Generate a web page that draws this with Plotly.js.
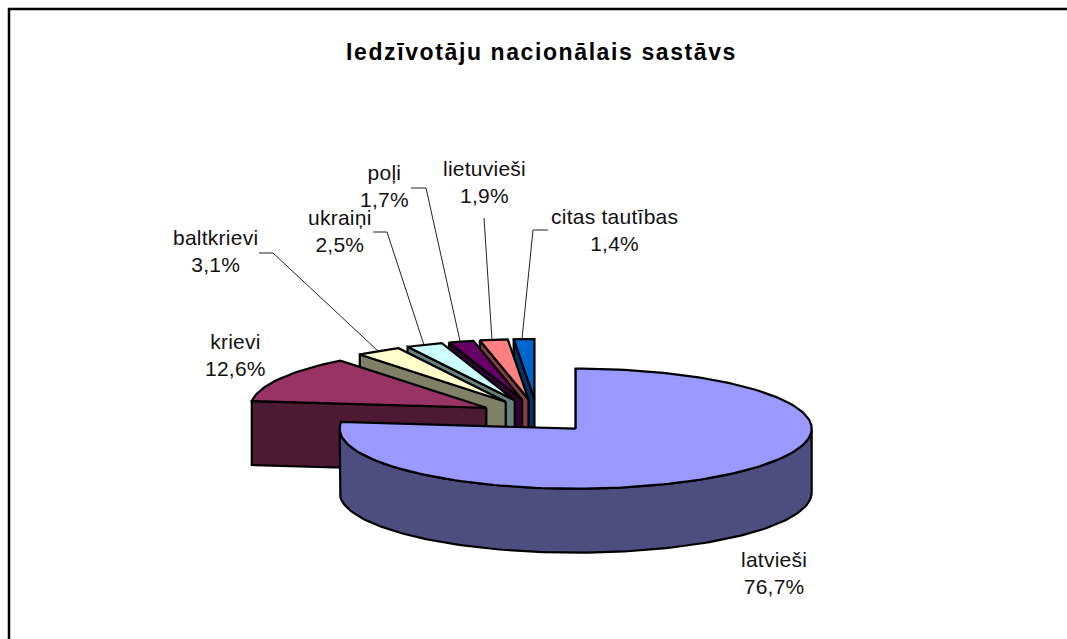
<!DOCTYPE html>
<html><head><meta charset="utf-8">
<script src="https://cdn.plot.ly/plotly-3.0.1.min.js"></script>
<style>html,body{margin:0;padding:0;background:#fff}#c{width:1067px;height:639px}
.annotation-text{letter-spacing:0.25px}
.annotation:last-of-type .annotation-text{letter-spacing:1.6px}
</style>
</head><body><div id="c"></div>
<script>
const categories = ["latvieši","krievi","baltkrievi","ukraiņi","poļi","lietuvieši","citas tautības"];
const values = [76.7,12.6,3.1,2.5,1.7,1.9,1.4];
const valueLabels = ["76,7%","12,6%","3,1%","2,5%","1,7%","1,9%","1,4%"];
const topColors = ["#9999FF","#993366","#FFFFCC","#CCFFFF","#660066","#FF8080","#0066CC"];
const sideColors = ["#4D4D80","#4D1A33","#808066","#668080","#330033","#804040","#003366"];
const labelX = [774,235,215,340,384,484,614];
const labelY = [573,355,251,231,186,182,230];
const leaders = [
  null,null,
  "M259,253 L273,253 L378,351",
  "M373,232 L387,232 L424,345",
  "M411,188 L426,188 L460,341",
  "M484,218 L492,340",
  "M548,230 L533,230 L522,339"
];

// projected 3D pie
const CX=537, CY=416, RX=236, RY=60, EX=58, EY=17, DEPTH=64;
const total = values.reduce((a,b)=>a+b,0);
const rad = f => f*2*Math.PI;

function arc(ax,ay,f0,f1,dy){
  const xs=[],ys=[],n=Math.max(4,Math.ceil((f1-f0)*240));
  for(let i=0;i<=n;i++){
    const t=rad(f0+(f1-f0)*i/n);
    xs.push(ax+RX*Math.sin(t)); ys.push(ay-RY*Math.cos(t)+dy);
  }
  return [xs,ys];
}
function poly(xs,ys,fill,name){
  return {type:"scatter",mode:"lines",x:xs.concat([xs[0]]),y:ys.concat([ys[0]]),fill:"toself",
    fillcolor:fill,line:{color:"#000",width:2.2,shape:"linear"},hoverinfo:"text",text:name,showlegend:false};
}
const slices=[]; let cum=0;
values.forEach((v,i)=>{
  const f0=cum/total, f1=(cum+v)/total; cum+=v;
  const m=rad((f0+f1)/2);
  const ax=CX+EX*Math.sin(m), ay=CY-EY*Math.cos(m);
  const tr=[];
  // radial wall at the slice's starting edge
  const s=rad(f0);
  const sx=ax+RX*Math.sin(s), sy=ay-RY*Math.cos(s);
  tr.push(poly([ax,sx,sx,ax],[ay,sy,sy+DEPTH,ay+DEPTH],sideColors[i],categories[i]));
  // outer rim wall, front half only
  const a0=Math.max(f0,0.25), a1=Math.min(f1,0.75);
  if(a1>a0){
    const [tx,ty]=arc(ax,ay,a0,a1,0), [bx,by]=arc(ax,ay,a0,a1,DEPTH);
    tr.push(poly(tx.concat(bx.reverse()),ty.concat(by.reverse()),sideColors[i],categories[i]));
  }
  // top face
  const [px,py]=arc(ax,ay,f0,f1,0);
  tr.push(poly([ax].concat(px),[ay].concat(py),topColors[i],categories[i]));
  slices.push(tr);
});
// paint back to front: last slice first, largest (front) slice last
const traces=[]; for(let i=slices.length-1;i>=0;i--) traces.push(...slices[i]);

const font={family:"Liberation Sans, Arial, sans-serif",size:21,color:"#111"};
const annotations=categories.map((c,i)=>({xref:"x",yref:"y",x:labelX[i],y:labelY[i],showarrow:false,
  text:c+"<br>"+valueLabels[i],align:"center",font:font,xanchor:"center",yanchor:"middle"}));
annotations.push({xref:"x",yref:"y",x:541,y:52,showarrow:false,xanchor:"center",yanchor:"middle",
  text:"<b>Iedzīvotāju nacionālais sastāvs</b>",font:{family:"Liberation Sans, Arial, sans-serif",size:23,color:"#000"}});

const shapes=[{type:"path",xref:"x",yref:"y",path:"M9,645 L9,9 L1075,9",line:{color:"#000",width:2.5}}];
leaders.forEach(p=>{ if(p) shapes.push({type:"path",xref:"x",yref:"y",path:p,line:{color:"#222",width:1}}); });

Plotly.newPlot("c",traces,{
  width:1067,height:639,margin:{l:0,r:0,t:0,b:0},paper_bgcolor:"#fff",plot_bgcolor:"#fff",showlegend:false,
  xaxis:{range:[0,1067],visible:false,fixedrange:true},
  yaxis:{range:[639,0],visible:false,fixedrange:true},
  annotations:annotations,shapes:shapes
},{displayModeBar:false,staticPlot:true});
</script></body></html>
